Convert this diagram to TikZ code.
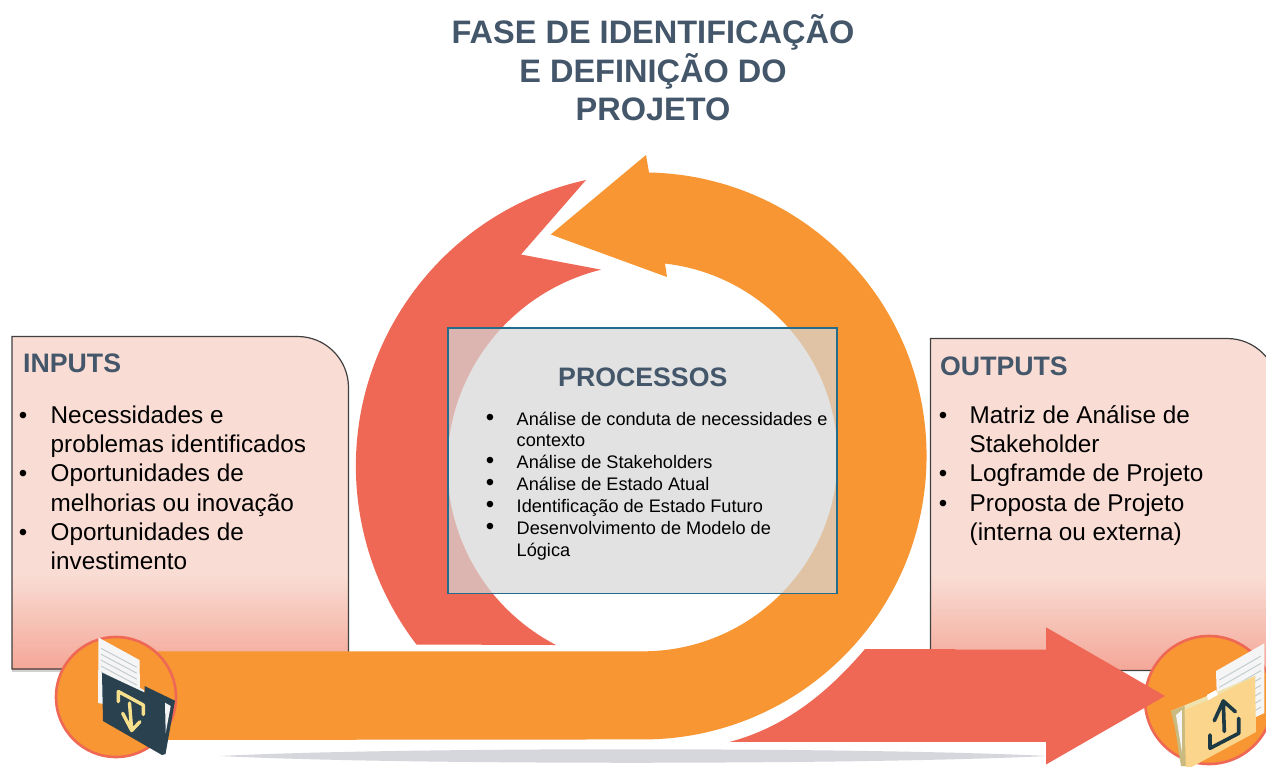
\documentclass[tikz,border=0pt]{standalone}
\usepackage{fontspec}
\setmainfont{Liberation Sans}
\definecolor{ored}{HTML}{EE6855}
\definecolor{oorange}{HTML}{F79632}
\definecolor{slate}{HTML}{44566A}
\definecolor{panelA}{HTML}{F9DCD3}
\definecolor{panelB}{HTML}{F4A798}
\definecolor{folderdark}{HTML}{2A424F}
\definecolor{symyellow}{HTML}{F6E08C}
\definecolor{folderlight}{HTML}{FAD58B}
\definecolor{symdark}{HTML}{1D3A44}
\definecolor{paperline}{HTML}{C3CDD0}
\definecolor{floorgray}{HTML}{D6D7DC}
\definecolor{boxgray}{HTML}{D7D7D7}
\definecolor{boxline}{HTML}{236C8C}
\definecolor{paperwhite}{HTML}{F5F5F5}
\definecolor{creamband}{HTML}{EFE2AE}
\definecolor{beige}{HTML}{C9BA80}
\tikzset{
  titletext/.style={anchor=base,inner sep=0pt,text=slate,font=\fontsize{32.5}{38}\selectfont\bfseries},
  headtext/.style={anchor=base west,inner sep=0pt,text=slate,font=\fontsize{26.7}{30}\selectfont\bfseries},
  sidetext/.style={anchor=base west,inner sep=0pt,text=black,font=\fontsize{24.3}{29}\selectfont},
  proctext/.style={anchor=base west,inner sep=0pt,text=black,font=\fontsize{18.15}{22}\selectfont},
  bul/.style={anchor=base,inner sep=0pt,text=black,font=\fontsize{24}{29}\selectfont},
  panelline/.style={draw=black!75,line width=1.2pt},
  iconline/.style={line width=3.4pt,line cap=round,line join=round},
}
\begin{document}
\begin{tikzpicture}[x=1pt,y=-1pt]
\useasboundingbox (0,0) rectangle (1266,766);
\clip (0,0) rectangle (1266,766);
\fill[white] (0,0) rectangle (1266,766);
% left panel
\fill[black,opacity=.18] (12,669) rectangle (349.5,671.5);
\path[fill=panelA] (12,336.5) -- (297.5,336.5) arc[start angle=-90,end angle=0,radius=51] -- (348.5,669) -- (12,669) -- cycle;
\begin{scope}
\clip (12,336.5) rectangle (348.5,669);
\shade[top color=panelA,bottom color=panelB] (12,575) rectangle (348.5,669);
\end{scope}
\draw[panelline] (12,336.5) -- (297.5,336.5) arc[start angle=-90,end angle=0,radius=51] -- (348.5,669) -- (12,669) -- cycle;
% right panel
\path[fill=panelA] (930.5,338.5) -- (1227,338.5) arc[start angle=-90,end angle=0,radius=51] -- (1278,670.5) -- (930.5,670.5) -- cycle;
\begin{scope}
\clip (930.5,338.5) rectangle (1278,670.5);
\shade[top color=panelA,bottom color=panelB] (930.5,577) rectangle (1278,670.5);
\end{scope}
\draw[panelline] (930.5,338.5) -- (1227,338.5) arc[start angle=-90,end angle=0,radius=51] -- (1278,670.5) -- (930.5,670.5) -- cycle;
% floor shadow
\fill[floorgray] (220,756) .. controls (400,747) and (860,747) .. (1048,756) .. controls (860,765) and (400,765) .. cycle;
% red ring
\fill[ored] (586,180) arc[start angle=-102.4,end angle=-217.5,radius=293] -- (556,645) arc[start angle=-242.5,end angle=-103.8,radius=202] -- (521,254.5) -- cycle;
% right circle
\node[circle,draw=ored,fill=oorange,line width=2.6pt,minimum size=128pt,inner sep=0pt] (circR) at (1209,700) {};
% red arrow
\fill[ored] (865,649) -- (955,649) -- (955,649.7) -- (1046,649.7) -- (1046,627.3) -- (1165,696) -- (1046,764.5) -- (1046,741.8) -- (730,741.8) .. controls (782,728) and (825,696) .. cycle;
% orange arrow
\fill[oorange] (116,651.3) -- (643,651.3) arc[start angle=90,end angle=-83.5,radius=194.5] -- (667,277) -- (550.7,234.5) -- (646,155) -- (649,172.5) arc[start angle=-88.8,end angle=90,radius=283.5] -- (116,740) -- cycle;
% left circle
\node[circle,draw=ored,fill=oorange,line width=2.6pt,minimum size=120pt,inner sep=0pt] (circL) at (116,697) {};
% central box
\fill[boxgray,fill opacity=.7] (447.7,327.7) rectangle (836.7,593.3);
\draw[boxline,line width=1.6pt] (447.7,327.7) rectangle (836.7,593.3);
% left icon
\fill[paperwhite] (98.5,637.5) -- (139.5,660) -- (140,688) -- (144,690) -- (144,694) -- (110,705) -- (98,703) -- cycle;
\foreach \d in {0,5.9,11.8,17.7,23.6}
  \draw[paperline,line width=1pt] (101,648.3+\d) -- (136.7,667.3+\d);
\fill[folderdark] (144.5,686) -- (175,700.7) -- (165.5,754) -- (162,755) -- (103,721) -- (102,672.7) -- (144.5,692.5) -- cycle;
\fill[paperwhite] (165,702.7) -- (170.7,706) -- (165.7,733) -- cycle;
\draw[symyellow,iconline] (118.3,701.7) -- (118.3,691.5) -- (143.3,705) -- (143.3,714.5);
\draw[symyellow,iconline] (129.5,703) -- (131.7,730) (122.7,713.3) -- (131.7,730.5) -- (140,721.7);
% right icon
\fill[paperwhite] (1216,671) -- (1264.3,643.3) -- (1264.3,713) -- (1218,735) -- cycle;
\foreach \d in {0,7.3,14.6,21.9,29.2,36.5,43.8,51.1}
  \draw[paperline,line width=1pt] (1219.3,680+\d) -- (1261,656+\d);
\fill[creamband] (1171,711) -- (1255,676) -- (1255,680) -- (1184,712) -- cycle;
\fill[white] (1207,695) -- (1216,690) -- (1218,695) -- (1208,701) -- cycle;
\fill[beige] (1171,711) -- (1175,728) -- (1181,766) -- (1186,766) -- (1184,706) -- cycle;
\fill[paperwhite] (1176,715) -- (1182,710) -- (1182,753) -- cycle;
\fill[folderlight] (1184,710) -- (1207,701) -- (1218,695) -- (1255,676) -- (1256,732) -- (1186,770) -- cycle;
\fill[beige] (1182,707) -- (1184.5,706) -- (1185,766) -- (1182.5,766) -- cycle;
\draw[symdark,iconline,line width=3.6pt] (1223.3,701) -- (1224.3,731.5) (1214.3,720.7) -- (1223.3,701) -- (1235.3,711.7);
\draw[symdark,iconline,line width=3.6pt] (1210,735) -- (1210,748.3) -- (1238.7,733.3) -- (1238.7,718.3);
% title
\node[titletext] (t1) at (653,43) {FASE DE IDENTIFICAÇÃO};
\node[titletext] (t2) at (653,82) {E DEFINIÇÃO DO};
\node[titletext] (t3) at (653,120.5) {PROJETO};
% inputs
\node[headtext] (hi) at (23,372.5) {INPUTS};
\node[bul] (bi1) at (23,423.5) {•};
\node[sidetext] (i1) at (50.5,423.5) {Necessidades e};
\node[sidetext] (i2) at (50.5,452.7) {problemas identificados};
\node[bul] (bi2) at (23,481.8) {•};
\node[sidetext] (i3) at (50.5,481.8) {Oportunidades de};
\node[sidetext] (i4) at (50.5,511) {melhorias ou inovação};
\node[bul] (bi3) at (23,540) {•};
\node[sidetext] (i5) at (50.5,540) {Oportunidades de};
\node[sidetext] (i6) at (50.5,569) {investimento};
% outputs
\node[headtext] (ho) at (940,375) {OUTPUTS};
\node[bul] (bo1) at (943,423.5) {•};
\node[sidetext] (o1) at (969.5,423.5) {Matriz de Análise de};
\node[sidetext] (o2) at (969.5,452.7) {Stakeholder};
\node[bul] (bo2) at (943,481.8) {•};
\node[sidetext] (o3) at (969.5,481.8) {Logframde de Projeto};
\node[bul] (bo3) at (943,511) {•};
\node[sidetext] (o4) at (969.5,511) {Proposta de Projeto};
\node[sidetext] (o5) at (969.5,540) {(interna ou externa)};
% processes
\node[headtext] (hp) at (558,386.5) {PROCESSOS};
\node[bul] (bp1) at (490,425.3) {•};
\node[proctext] (p1) at (516.5,425) {Análise de conduta de necessidades e};
\node[proctext] (p2) at (516.5,446.7) {contexto};
\node[bul] (bp2) at (490,468.8) {•};
\node[proctext] (p3) at (516.5,468.5) {Análise de Stakeholders};
\node[bul] (bp3) at (490,490.6) {•};
\node[proctext] (p4) at (516.5,490.3) {Análise de Estado Atual};
\node[bul] (bp4) at (490,512.4) {•};
\node[proctext] (p5) at (516.5,512.1) {Identificação de Estado Futuro};
\node[bul] (bp5) at (490,534.3) {•};
\node[proctext] (p6) at (516.5,534) {Desenvolvimento de Modelo de};
\node[proctext] (p7) at (516.5,556) {Lógica};
\end{tikzpicture}
\end{document}
